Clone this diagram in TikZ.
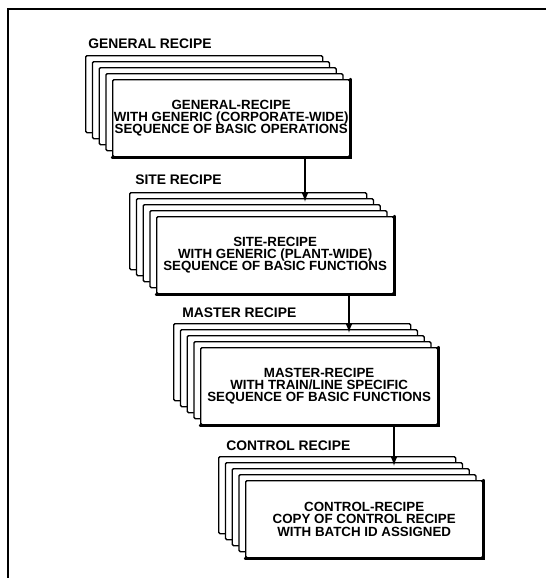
\documentclass[tikz,border=0pt]{standalone}
\usepackage{fontspec}
\setmainfont{Liberation Sans}
\usetikzlibrary{arrows.meta,positioning}

\begin{document}
\begin{tikzpicture}[x=0.75pt,y=-0.75pt,
    every node/.style={font=\bfseries\fontsize{10}{9.3}\selectfont},
    card/.style={draw,fill=white,line width=1pt,rounded corners=1pt,anchor=north west,minimum width=177.75pt,minimum height=57.75pt,inner sep=0pt,align=center},
    stacklabel/.style={anchor=base west,inner sep=0pt,font=\bfseries\fontsize{10.4}{10}\selectfont},
    flow/.style={-{Latex[length=7.5pt,width=5.5pt]},line width=1pt},
    shadowedge/.style={line width=1.8pt,line cap=round}]
  \useasboundingbox (0,0) rectangle (546,578);
  \draw[line width=1.5pt] (546,9) -- (8,9) -- (8,578);

  \node[stacklabel] (genlbl) at (88,48) {GENERAL RECIPE};
  \foreach \k in {0,...,3} \node[card] (gen\k) at (85+6.75*\k,55+6*\k) {};
  \node[card] (gen) at (112,79) {GENERAL-RECIPE\\WITH GENERIC (CORPORATE-WIDE)\\SEQUENCE OF BASIC OPERATIONS};

  \node[stacklabel] (sitelbl) at (135,184) {SITE RECIPE};
  \foreach \k in {0,...,3} \node[card] (site\k) at (129+6.75*\k,192+6*\k) {};
  \node[card] (site) at (156,216) {SITE-RECIPE\\WITH GENERIC (PLANT-WIDE)\\SEQUENCE OF BASIC FUNCTIONS};

  \node[stacklabel] (masterlbl) at (182,317) {MASTER RECIPE};
  \foreach \k in {0,...,3} \node[card] (master\k) at (173+6.75*\k,323+6*\k) {};
  \node[card] (master) at (200,347) {MASTER-RECIPE\\WITH TRAIN/LINE SPECIFIC\\SEQUENCE OF BASIC FUNCTIONS};

  \node[stacklabel] (ctrllbl) at (226,450) {CONTROL RECIPE};
  \foreach \k in {0,...,3} \node[card] (ctrl\k) at (218+6.75*\k,456+6*\k) {};
  \node[card] (ctrl) at (245,480) {CONTROL-RECIPE\\COPY OF CONTROL RECIPE\\WITH BATCH ID ASSIGNED};

  \foreach \n in {gen,site,master,ctrl}
    \draw[shadowedge] (\n.north east) -- (\n.south east) -- (\n.south west);

  \coordinate (sitein) at (305,202);
  \coordinate (masterin) at (349,333);
  \coordinate (ctrlin) at (394,466);
  \draw[flow] (gen.south -| sitein) -- (sitein);
  \draw[flow] (site.south -| masterin) -- (masterin);
  \draw[flow] (master.south -| ctrlin) -- (ctrlin);
\end{tikzpicture}
\end{document}
